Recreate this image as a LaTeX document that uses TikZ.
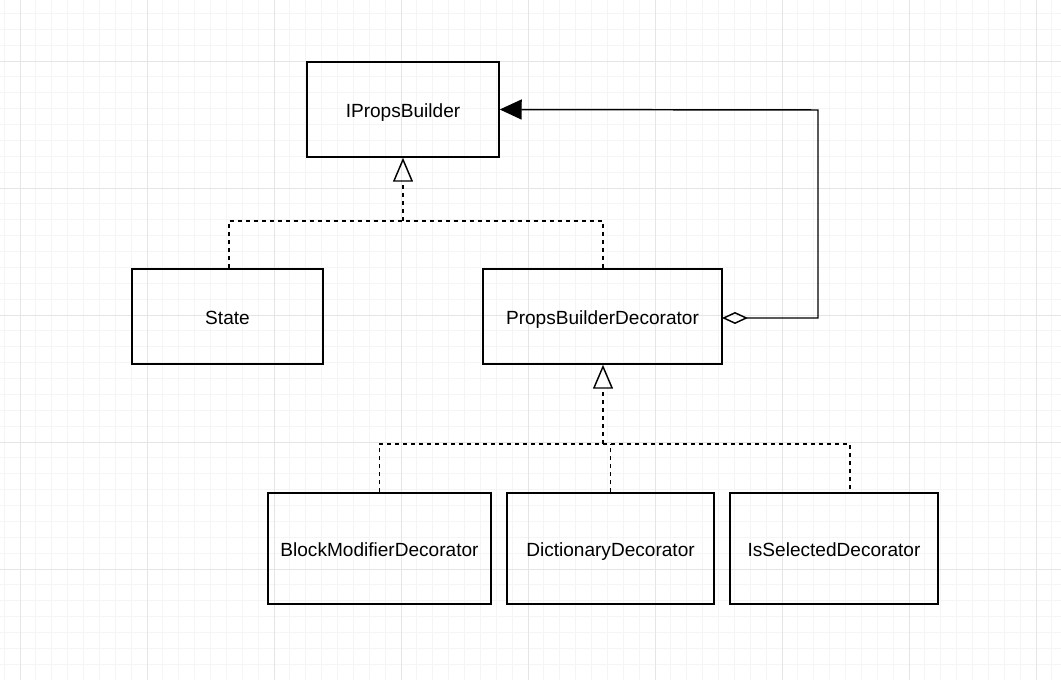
\documentclass[tikz,border=0pt]{standalone}
\usepackage{fontspec}
\setmainfont{Liberation Sans}
\usetikzlibrary{arrows.meta}
\begin{document}
\begin{tikzpicture}[x=0.75pt, y=-0.75pt,
    cls/.style={draw, line width=1.1pt, align=center, inner sep=0pt,
      text height=11.5pt, text depth=0pt,
      font=\fontsize{14.3}{17}\selectfont},
    dsh/.style={line width=1.1pt, dash pattern=on 3pt off 3pt},
    minorgrid/.style={draw=black!4, line width=0.6pt},
    majorgrid/.style={draw=black!10, line width=0.6pt}]
  \useasboundingbox (0,0) rectangle (1061,680);
  \fill[white] (0,0) rectangle (1061,680);
  % grid
  \foreach \k in {-1,...,66} \draw[minorgrid] ({20+15.875*\k},0) -- ({20+15.875*\k},680);
  \foreach \k in {-3,...,39} \draw[minorgrid] (0,{61+15.875*\k}) -- (1061,{61+15.875*\k});
  \foreach \k in {0,...,8} \draw[majorgrid] ({20+127*\k},0) -- ({20+127*\k},680);
  \foreach \k in {0,...,4} \draw[majorgrid] (0,{61+127*\k}) -- (1061,{61+127*\k});

  \node[cls, minimum width=144pt, minimum height=71.25pt] (ipb) at (403,109.5) {IPropsBuilder};
  \node[cls, minimum width=143.25pt, minimum height=71.25pt] (st) at (227.5,316.5) {State};
  \node[cls, minimum width=179.25pt, minimum height=71.25pt] (pbd) at (602.5,316.5) {PropsBuilderDecorator};
  \node[cls, minimum width=167.25pt, minimum height=83.25pt] (bmd) at (379.5,548.5) {BlockModifierDecorator};
  \node[cls, minimum width=155.25pt, minimum height=83.25pt] (dd) at (610.5,548.5) {DictionaryDecorator};
  \node[cls, minimum width=156pt, minimum height=83.25pt] (isd) at (834,548.5) {IsSelectedDecorator};

  \coordinate (j1) at (403,221);
  \coordinate (j2) at (603,444);
  \coordinate (j3) at (850,444);
  \coordinate (k) at (818,110);
  \coordinate (a) at (722,318);

  \draw[dsh] (st.north -| 229,0) |- (j1) -| (pbd.north -| 603,0);
  \draw[dsh, -{Triangle[open, length=18pt, width=15pt, line width=1.1pt]}] (j1) -- (ipb.south);
  \draw[dsh] (bmd.north) |- (j3) -- (j3 |- isd.north);
  \draw[dsh] (dd.north) -- (dd.north |- j3);
  \draw[dsh, -{Triangle[open, length=18pt, width=15pt, line width=1.1pt]}] (j2) -- (j2 |- pbd.south);
  \draw[line width=1.1pt, {Diamond[open, length=19.5pt, width=9pt, line width=1.1pt]}-{Triangle[length=16.5pt, width=15pt]}]
    (a) -| (k) -- (ipb.east);
\end{tikzpicture}
\end{document}
